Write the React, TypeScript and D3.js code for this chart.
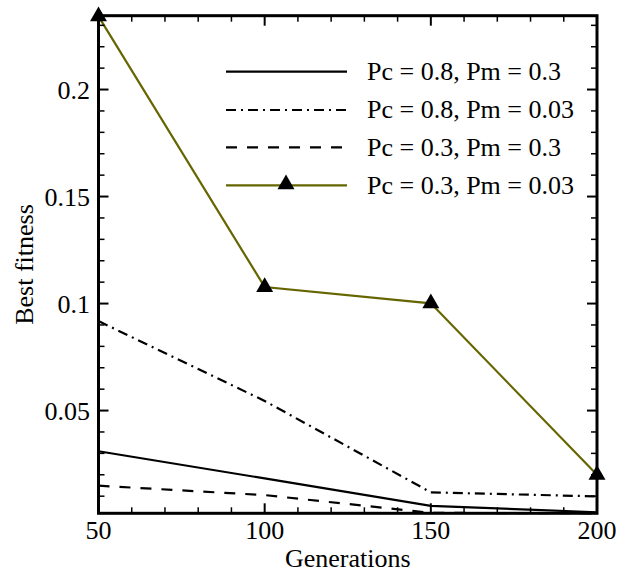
import React from "react";
import * as d3 from "d3";

const generations = [50, 100, 150, 200];
const seriesLabels = [
  "Pc = 0.8, Pm = 0.3",
  "Pc = 0.8, Pm = 0.03",
  "Pc = 0.3, Pm = 0.3",
  "Pc = 0.3, Pm = 0.03",
];
const pc08pm03 = [0.031, 0.0183, 0.0055, 0.0025];
const pc08pm003 = [0.0918, 0.0545, 0.0118, 0.0099];
const pc03pm03 = [0.0149, 0.0105, 0.0022, 0.002];
const pc03pm003 = [0.2342, 0.1077, 0.1001, 0.02];
const xTicks = [50, 100, 150, 200];
const yTicks = [0.05, 0.1, 0.15, 0.2];
const yTickLabels = ["0.05", "0.1", "0.15", "0.2"];

const W = 619;
const H = 574;
const FONT = "'Liberation Serif', 'Times New Roman', serif";

export default function App() {
  const x = d3.scaleLinear().domain([50, 200]).range([98.5, 597]);
  const y = d3.scaleLinear().domain([0.002, 0.2345]).range([513.3, 15.7]);
  const [x0, x1] = x.range();
  const [yb, yt] = y.range();

  const series = [
    { values: pc08pm03, color: "#000", dash: "none", marker: false },
    { values: pc08pm003, color: "#000", dash: "10,5,2,5", marker: false },
    { values: pc03pm03, color: "#000", dash: "11,10", marker: false },
    { values: pc03pm003, color: "#666600", dash: "none", marker: true },
  ];

  const line = d3
    .line<number>()
    .x((_, i) => x(generations[i]))
    .y((d) => y(d));

  const tri = d3.symbol().type(d3.symbolTriangle).size(125)() as string;

  const xMinor = d3.range(60, 200, 10).filter((v) => v % 50 !== 0);
  const yMinor = d3
    .range(1, 24)
    .map((k) => k * 0.01)
    .filter((v) => Math.abs(v / 0.05 - Math.round(v / 0.05)) > 1e-6 && v > 0.002);

  const legendRows = [71.7, 110, 147.3, 185.3];

  return (
    <svg
      width={W}
      height={H}
      style={{ position: "absolute", left: 0, top: 0, background: "#fff" }}
      fontFamily={FONT}
    >
      <rect width={W} height={H} fill="#fff" />
      {series.map((s, i) => (
        <path
          key={i}
          d={line(s.values) as string}
          fill="none"
          stroke={s.color}
          strokeWidth={2.2}
          strokeDasharray={s.dash}
        />
      ))}
      {/* frame */}
      <rect
        x={x0}
        y={yt}
        width={x1 - x0}
        height={yb - yt}
        fill="none"
        stroke="#000"
        strokeWidth={3}
      />
      {/* x ticks */}
      {xTicks.map((v) => (
        <g key={"xm" + v}>
          <line x1={x(v)} x2={x(v)} y1={yb} y2={yb - 10} stroke="#000" strokeWidth={2} />
          <line x1={x(v)} x2={x(v)} y1={yt} y2={yt + 10} stroke="#000" strokeWidth={2} />
          <text x={x(v)} y={539} textAnchor="middle" fontSize={26}>
            {v}
          </text>
        </g>
      ))}
      {xMinor.map((v) => (
        <g key={"xn" + v}>
          <line x1={x(v)} x2={x(v)} y1={yb} y2={yb - 6} stroke="#000" strokeWidth={1.5} />
          <line x1={x(v)} x2={x(v)} y1={yt} y2={yt + 6} stroke="#000" strokeWidth={1.5} />
        </g>
      ))}
      {/* y ticks */}
      {yTicks.map((v, i) => (
        <g key={"ym" + v}>
          <line x1={x0} x2={x0 + 10} y1={y(v)} y2={y(v)} stroke="#000" strokeWidth={2} />
          <line x1={x1} x2={x1 - 10} y1={y(v)} y2={y(v)} stroke="#000" strokeWidth={2} />
          <text x={90} y={y(v)} dy="0.36em" textAnchor="end" fontSize={26}>
            {yTickLabels[i]}
          </text>
        </g>
      ))}
      {yMinor.map((v) => (
        <g key={"yn" + v}>
          <line x1={x0} x2={x0 + 6} y1={y(v)} y2={y(v)} stroke="#000" strokeWidth={1.5} />
          <line x1={x1} x2={x1 - 6} y1={y(v)} y2={y(v)} stroke="#000" strokeWidth={1.5} />
        </g>
      ))}
      {/* markers */}
      {series
        .filter((s) => s.marker)
        .map((s, si) =>
          s.values.map((v, i) => (
            <path
              key={"m" + si + "-" + i}
              d={tri}
              transform={`translate(${x(generations[i])},${y(v)})`}
              fill="#000"
            />
          ))
        )}
      {/* axis titles */}
      <text x={(x0 + x1) / 2} y={567} textAnchor="middle" fontSize={26}>
        Generations
      </text>
      <text
        transform={`translate(33,${(yt + yb) / 2}) rotate(-90)`}
        textAnchor="middle"
        fontSize={26}
      >
        Best fitness
      </text>
      {/* legend */}
      {series.map((s, i) => (
        <g key={"lg" + i}>
          <line
            x1={226}
            x2={347}
            y1={legendRows[i]}
            y2={legendRows[i]}
            stroke={s.color}
            strokeWidth={2.2}
            strokeDasharray={s.dash}
          />
          {s.marker && (
            <path d={tri} transform={`translate(286,${legendRows[i] - 1})`} fill="#000" />
          )}
          <text x={367} y={legendRows[i]} dy="0.32em" fontSize={26}>
            {seriesLabels[i]}
          </text>
        </g>
      ))}
    </svg>
  );
}
